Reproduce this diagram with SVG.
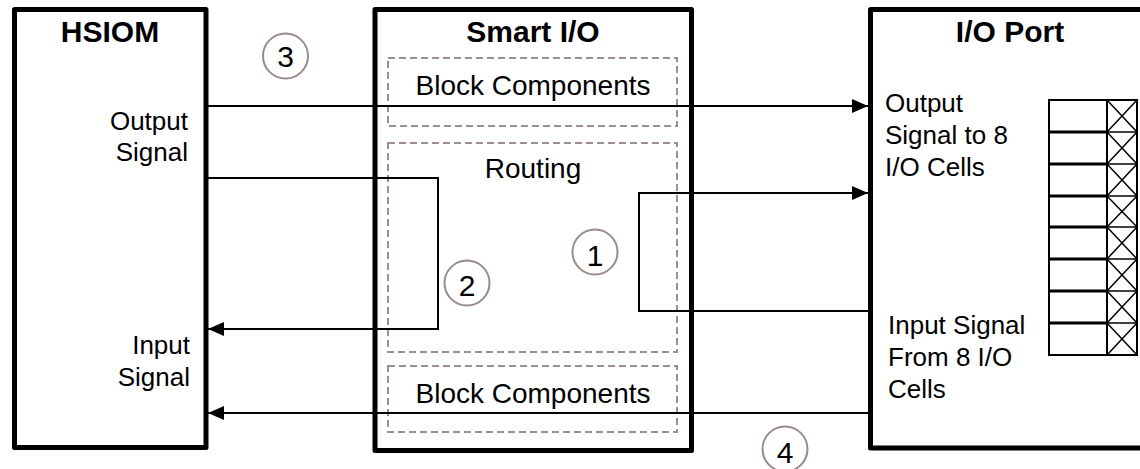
<svg xmlns="http://www.w3.org/2000/svg" width="1140" height="469" viewBox="0 0 1140 469">
<defs>
<style>
.box{fill:none;stroke:#000;stroke-width:5;stroke-linejoin:round}
.dash{fill:none;stroke:#9d8f8f;stroke-width:2;stroke-dasharray:7,4}
.wire{fill:none;stroke:#000;stroke-width:2}
.title{font-family:"Liberation Sans",Arial,sans-serif;font-weight:bold;font-size:30px;fill:#000;text-anchor:middle}
.lbl{font-family:"Liberation Sans",Arial,sans-serif;font-size:26px;fill:#000}
.blk{font-family:"Liberation Sans",Arial,sans-serif;font-size:28px;fill:#000;text-anchor:middle}
.ring{fill:none;stroke:#9a8a8a;stroke-width:2}
.num{font-family:"Liberation Sans",Arial,sans-serif;font-size:30px;fill:#000;text-anchor:middle}
.cell{fill:none;stroke:#000;stroke-width:2}
.thin{fill:none;stroke:#000;stroke-width:1.5}
</style>
<marker id="ah" markerWidth="16" markerHeight="14" refX="16" refY="7" orient="auto" markerUnits="userSpaceOnUse">
<path d="M0,0 L16,7 L0,14 Z" fill="#000"/>
</marker>
</defs>
<rect width="1140" height="469" fill="#fff"/>

<g id="hsiom">
<rect class="box" x="14.5" y="9.5" width="191.5" height="438"/>
<text class="title" x="110" y="42">HSIOM</text>
<text class="lbl" x="188" y="130" text-anchor="end">Output</text>
<text class="lbl" x="188" y="161" text-anchor="end">Signal</text>
<text class="lbl" x="190" y="354" text-anchor="end">Input</text>
<text class="lbl" x="190" y="386" text-anchor="end">Signal</text>
</g>

<g id="smartio">
<rect class="box" x="375" y="9.5" width="316.5" height="441"/>
<text class="title" x="533" y="42">Smart I/O</text>
<g id="block-top">
<rect class="dash" x="388" y="58" width="289" height="68"/>
<text class="blk" x="533" y="95">Block Components</text>
</g>
<g id="routing">
<rect class="dash" x="388" y="143" width="289" height="209"/>
<text class="blk" x="533" y="178">Routing</text>
</g>
<g id="block-bottom">
<rect class="dash" x="388" y="366" width="289" height="66"/>
<text class="blk" x="533" y="403">Block Components</text>
</g>
</g>

<g id="ioport">
<path class="box" d="M1150,9.5 H870.5 V448 H1150"/>
<text class="title" x="1010" y="42">I/O Port</text>
<text class="lbl" x="885" y="112">Output</text>
<text class="lbl" x="885" y="144">Signal to 8</text>
<text class="lbl" x="885" y="176">I/O Cells</text>
<text class="lbl" x="888" y="334">Input Signal</text>
<text class="lbl" x="888" y="366">From 8 I/O</text>
<text class="lbl" x="888" y="398">Cells</text>
<g id="cells">
<rect class="cell" x="1049" y="100" width="88" height="255"/>
<line class="cell" x1="1107" y1="100" x2="1107" y2="355"/>
<path stroke="#000" stroke-width="3" fill="none" d="M1049,132 H1107 M1049,164 H1107 M1049,196 H1107 M1049,227 H1107 M1049,259 H1107 M1049,291 H1107 M1049,323 H1107"/>
<path class="thin" d="M1107,132 H1137 M1107,164 H1137 M1107,196 H1137 M1107,227 H1137 M1107,259 H1137 M1107,291 H1137 M1107,323 H1137"/>
<path class="thin" d="M1107,100 L1137,132 M1137,100 L1107,132 M1107,132 L1137,164 M1137,132 L1107,164 M1107,164 L1137,196 M1137,164 L1107,196 M1107,196 L1137,227 M1137,196 L1107,227 M1107,227 L1137,259 M1137,227 L1107,259 M1107,259 L1137,291 M1137,259 L1107,291 M1107,291 L1137,323 M1137,291 L1107,323 M1107,323 L1137,355 M1137,323 L1107,355"/>
</g>
</g>

<g id="connectors">
<path class="wire" d="M206,106 H868" marker-end="url(#ah)"/>
<path class="wire" d="M206,178 H438 V329 H208" marker-end="url(#ah)"/>
<path class="wire" d="M870,311 H639 V193 H868" marker-end="url(#ah)"/>
<path class="wire" d="M870,413 H208" marker-end="url(#ah)"/>
</g>

<g id="labels">
<g id="c3"><circle class="ring" cx="285.5" cy="56" r="22.5"/><text class="num" x="285.5" y="67">3</text></g>
<g id="c2"><circle class="ring" cx="467" cy="283" r="22.5"/><text class="num" x="467" y="296">2</text></g>
<g id="c1"><circle class="ring" cx="595" cy="252" r="22.5"/><text class="num" x="595" y="266">1</text></g>
<g id="c4"><circle class="ring" cx="785" cy="449" r="22.5"/><text class="num" x="785" y="463">4</text></g>
</g>
</svg>
